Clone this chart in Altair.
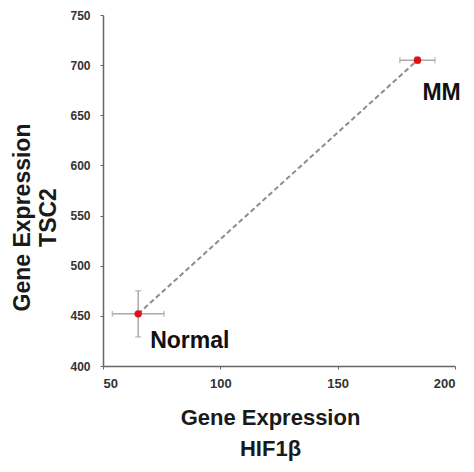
import altair as alt
import pandas as pd

groups = ["Normal", "MM"]
hif1b = [65, 184]
tsc2 = [452, 705]
hif1b_err = [11, 7.5]
tsc2_err = [23, 3]

df = pd.DataFrame({
    "group": groups,
    "hif": hif1b,
    "tsc": tsc2,
    "hif_lo": [v - e for v, e in zip(hif1b, hif1b_err)],
    "hif_hi": [v + e for v, e in zip(hif1b, hif1b_err)],
    "tsc_lo": [v - e for v, e in zip(tsc2, tsc2_err)],
    "tsc_hi": [v + e for v, e in zip(tsc2, tsc2_err)],
    "order": [0, 1],
})

FONT = "Liberation Sans"

xscale = alt.Scale(domain=[50, 200], nice=False, zero=False)
yscale = alt.Scale(domain=[400, 750], nice=False, zero=False)

xaxis = alt.Axis(
    values=[50, 100, 150, 200], title=["Gene Expression", "HIF1β"],
    titleFontSize=22, titleFont=FONT, titleFontWeight="bold", titleColor="#1a1a1a",
    titleLineHeight=31, titlePadding=17, titleX=167,
    labelFont=FONT, labelFontSize=13, labelFontWeight="bold", labelColor="#333",
    labelPadding=8, tickSize=3, tickColor="#666", domainColor="#666", domainWidth=1.5,
    grid=False,
)
yaxis = alt.Axis(
    values=[400, 450, 500, 550, 600, 650, 700, 750], title=["Gene Expression", "TSC2"],
    titleFontSize=23, titleFont=FONT, titleFontWeight="bold", titleColor="#1a1a1a",
    titleLineHeight=26, titlePadding=9, titleY=202,
    labelFont=FONT, labelFontSize=12, labelFontWeight="bold", labelColor="#333",
    labelPadding=10, tickSize=3, tickColor="#666", domainColor="#666", domainWidth=1.5,
    grid=False,
)

base = alt.Chart(df)

line = base.mark_line(color="#8c8c8c", strokeWidth=2, strokeDash=[5, 3]).encode(
    x=alt.X("hif:Q", scale=xscale, axis=xaxis),
    y=alt.Y("tsc:Q", scale=yscale, axis=yaxis),
    order="order:Q",
)

hbar = base.mark_rule(color="#aaaaaa", strokeWidth=1.5).encode(
    x=alt.X("hif_lo:Q", scale=xscale), x2="hif_hi:Q", y=alt.Y("tsc:Q", scale=yscale)
)
vbar = base.mark_rule(color="#aaaaaa", strokeWidth=1.5).encode(
    y=alt.Y("tsc_lo:Q", scale=yscale), y2="tsc_hi:Q", x=alt.X("hif:Q", scale=xscale)
)
cap_l = base.mark_tick(color="#aaaaaa", orient="vertical", size=6, thickness=1.5).encode(
    x=alt.X("hif_lo:Q", scale=xscale), y=alt.Y("tsc:Q", scale=yscale)
)
cap_r = base.mark_tick(color="#aaaaaa", orient="vertical", size=6, thickness=1.5).encode(
    x=alt.X("hif_hi:Q", scale=xscale), y=alt.Y("tsc:Q", scale=yscale)
)
cap_b = base.mark_tick(color="#aaaaaa", orient="horizontal", size=6, thickness=1.5).encode(
    x=alt.X("hif:Q", scale=xscale), y=alt.Y("tsc_lo:Q", scale=yscale)
)
cap_t = base.mark_tick(color="#aaaaaa", orient="horizontal", size=6, thickness=1.5).encode(
    x=alt.X("hif:Q", scale=xscale), y=alt.Y("tsc_hi:Q", scale=yscale)
)

pts = base.mark_point(filled=True, color="#e0101a", size=55, opacity=1, shape="circle").encode(
    x=alt.X("hif:Q", scale=xscale), y=alt.Y("tsc:Q", scale=yscale)
)

lbl_normal = base.transform_filter(alt.datum.group == "Normal").mark_text(
    font=FONT, fontSize=23, fontWeight="bold", color="#111", align="left",
    baseline="alphabetic", dx=12, dy=34,
).encode(x=alt.X("hif:Q", scale=xscale), y=alt.Y("tsc:Q", scale=yscale), text="group:N")

lbl_mm = base.transform_filter(alt.datum.group == "MM").mark_text(
    font=FONT, fontSize=23, fontWeight="bold", color="#111", align="left",
    baseline="alphabetic", dx=5, dy=40,
).encode(x=alt.X("hif:Q", scale=xscale), y=alt.Y("tsc:Q", scale=yscale), text="group:N")

chart = alt.layer(
    line, hbar, vbar, cap_l, cap_r, cap_b, cap_t, pts, lbl_normal, lbl_mm
).properties(
    width=352, height=351,
    autosize=alt.AutoSizeParams(type="none"),
    padding={"left": 95, "top": 7, "right": 11, "bottom": 98},
    background="white",
).configure_view(stroke=None)

chart.save("out.html", embed_options={"renderer": "svg", "actions": False})
